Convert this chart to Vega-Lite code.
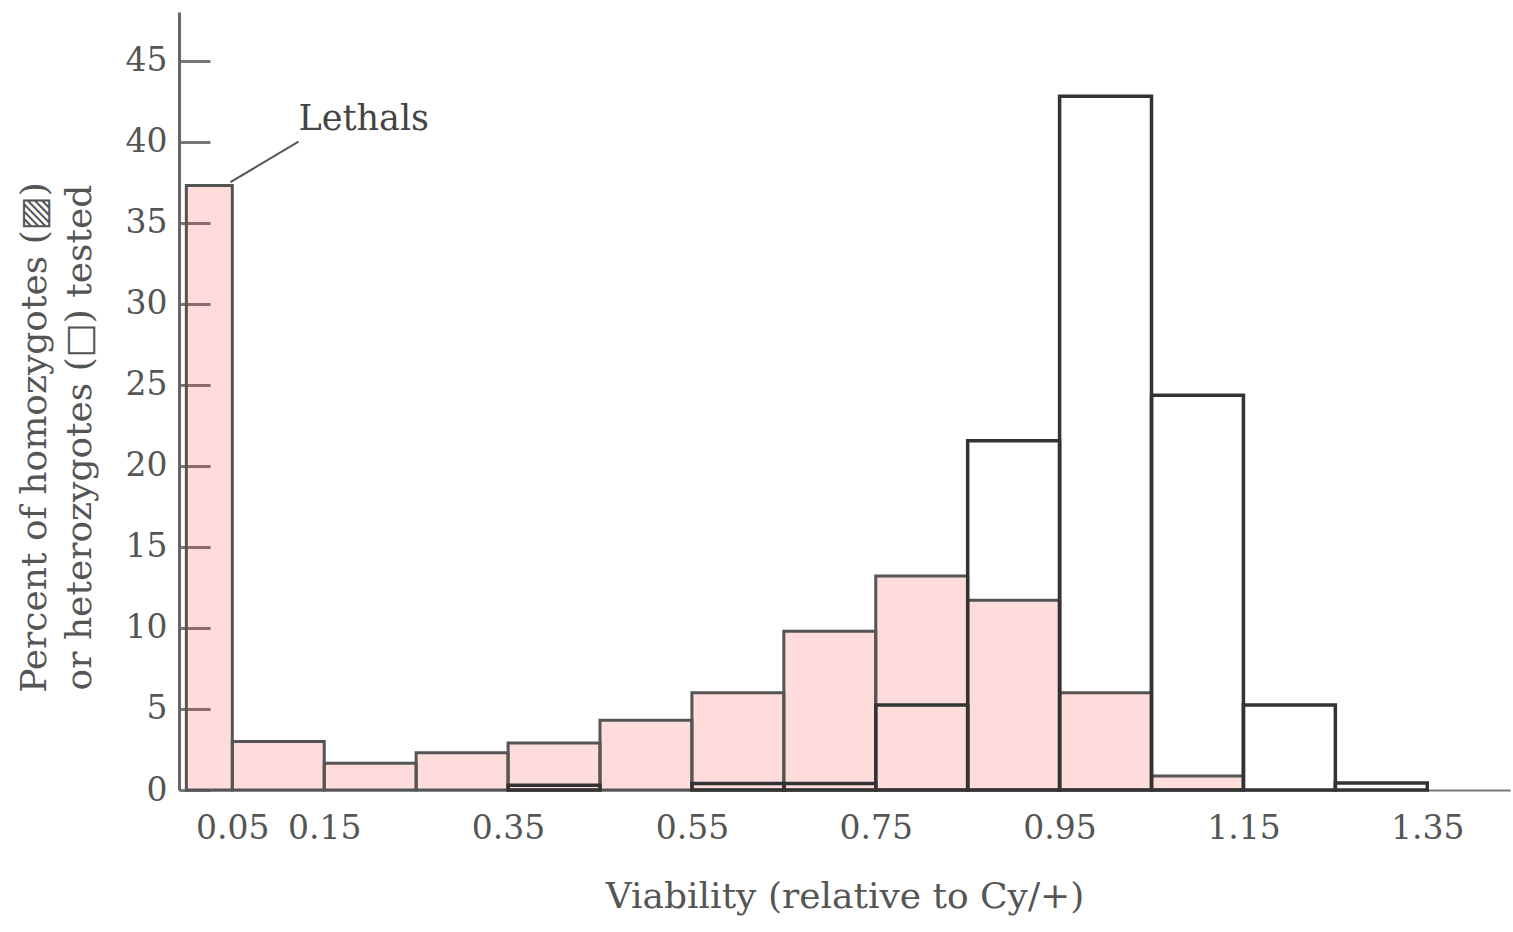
{
  "$schema": "https://vega.github.io/schema/vega-lite/v6.json",
  "width": 1331,
  "height": 778,
  "autosize": "none",
  "padding": {"left": 179, "top": 12, "right": 3, "bottom": 142},
  "background": "white",
  "config": {
    "view": {"stroke": null},
    "font": "DejaVu Serif",
    "axis": {"grid": false, "labelFont": "DejaVu Serif", "titleFont": "DejaVu Serif", "labelColor": "#555", "titleColor": "#555", "titleFontWeight": "normal", "labelFontSize": 33, "titleFontSize": 36}
  },
  "datasets": {
    "homo": [
      {"x0": 0.0, "x1": 0.05, "pct": 37.3},
      {"x0": 0.05, "x1": 0.15, "pct": 3.0},
      {"x0": 0.15, "x1": 0.25, "pct": 1.65},
      {"x0": 0.25, "x1": 0.35, "pct": 2.3},
      {"x0": 0.35, "x1": 0.45, "pct": 2.9},
      {"x0": 0.45, "x1": 0.55, "pct": 4.3},
      {"x0": 0.55, "x1": 0.65, "pct": 6.0},
      {"x0": 0.65, "x1": 0.75, "pct": 9.8},
      {"x0": 0.75, "x1": 0.85, "pct": 13.2},
      {"x0": 0.85, "x1": 0.95, "pct": 11.7},
      {"x0": 0.95, "x1": 1.05, "pct": 6.0},
      {"x0": 1.05, "x1": 1.15, "pct": 0.87}
    ],
    "hetero": [
      {"x0": 0.35, "x1": 0.45, "pct": 0.3},
      {"x0": 0.55, "x1": 0.65, "pct": 0.4},
      {"x0": 0.65, "x1": 0.75, "pct": 0.4},
      {"x0": 0.75, "x1": 0.85, "pct": 5.25},
      {"x0": 0.85, "x1": 0.95, "pct": 21.55},
      {"x0": 0.95, "x1": 1.05, "pct": 42.8},
      {"x0": 1.05, "x1": 1.15, "pct": 24.35},
      {"x0": 1.15, "x1": 1.25, "pct": 5.25},
      {"x0": 1.25, "x1": 1.35, "pct": 0.43}
    ],
    "note": [
      {"xa": 0.048, "ya": 37.5, "xb": 0.122, "yb": 40.0, "xt": 0.122, "yt": 41.4, "label": "Lethals"}
    ]
  },
  "layer": [
    {
      "data": {"name": "homo"},
      "mark": {"type": "rect", "fill": "#ff3030", "fillOpacity": 0.17, "stroke": "#555", "strokeWidth": 3},
      "encoding": {
        "x": {"field": "x0", "type": "quantitative", "scale": {"domain": [-0.008, 1.44], "nice": false, "zero": false},
          "axis": {"title": "Viability (relative to Cy/+)", "values": [0.05, 0.15, 0.35, 0.55, 0.75, 0.95, 1.15, 1.35], "format": ".2f", "ticks": false, "labelPadding": 22, "labelDx": -5, "domainColor": "#777", "domainWidth": 2, "titlePadding": 34, "labelFlush": false}},
        "x2": {"field": "x1"},
        "y": {"field": "pct", "type": "quantitative", "scale": {"domain": [0, 48], "nice": false},
          "axis": {"title": ["Percent of homozygotes (▨)", "or heterozygotes (□) tested"], "values": [0, 5, 10, 15, 20, 25, 30, 35, 40, 45], "tickSize": -31, "tickColor": "#777", "tickWidth": 3, "labelPadding": 43, "domainColor": "#666", "domainWidth": 3, "titleAngle": -90, "titleX": -162, "titleY": 425, "titleAlign": "center", "titleBaseline": "top", "titleLineHeight": 45, "labelFlush": false}},
        "y2": {"datum": 0}
      }
    },
    {
      "data": {"name": "hetero"},
      "mark": {"type": "rect", "fill": null, "fillOpacity": 0, "stroke": "#333", "strokeWidth": 3.5},
      "encoding": {
        "x": {"field": "x0", "type": "quantitative"},
        "x2": {"field": "x1"},
        "y": {"field": "pct", "type": "quantitative"},
        "y2": {"datum": 0}
      }
    },
    {
      "data": {"name": "note"},
      "mark": {"type": "rule", "stroke": "#555", "strokeWidth": 2},
      "encoding": {
        "x": {"field": "xa", "type": "quantitative"},
        "y": {"field": "ya", "type": "quantitative"},
        "x2": {"field": "xb"},
        "y2": {"field": "yb"}
      }
    },
    {
      "data": {"name": "note"},
      "mark": {"type": "text", "align": "left", "baseline": "middle", "font": "DejaVu Serif", "fontSize": 35, "color": "#444"},
      "encoding": {
        "x": {"field": "xt", "type": "quantitative"},
        "y": {"field": "yt", "type": "quantitative"},
        "text": {"field": "label"}
      }
    }
  ]
}
